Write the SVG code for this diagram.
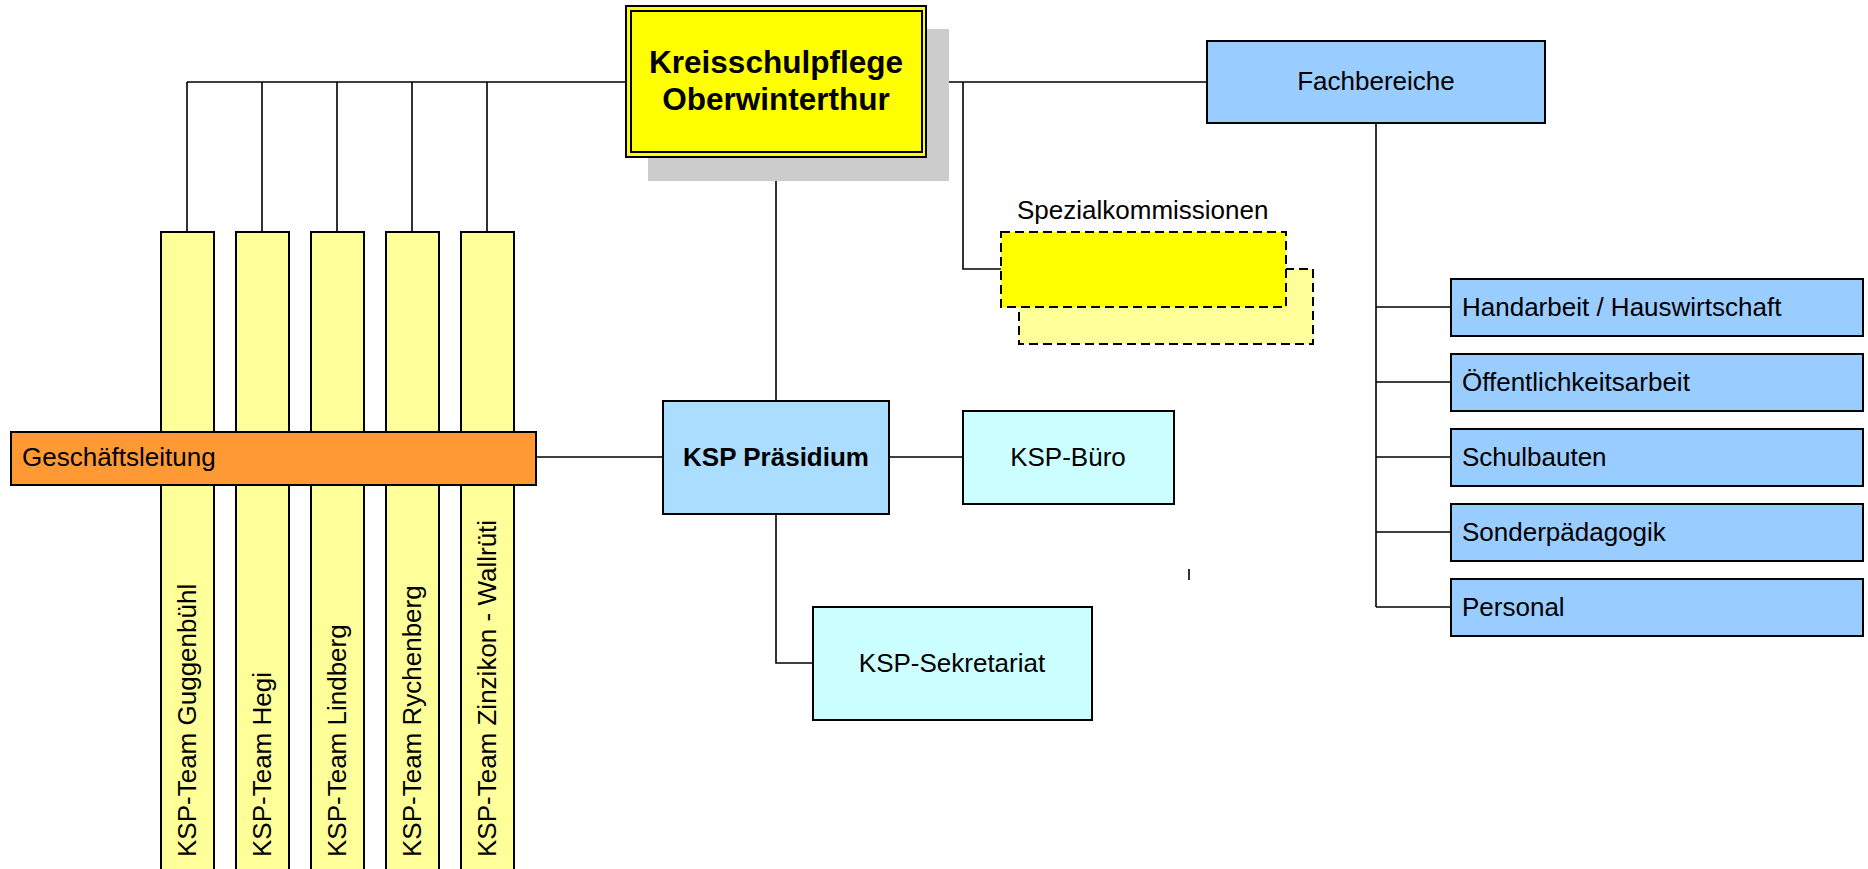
<svg xmlns="http://www.w3.org/2000/svg" width="1868" height="869" viewBox="0 0 1868 869">
<style>
text{font-family:"Liberation Sans",Arial,sans-serif;font-size:26px;fill:#000}
.b{font-weight:bold}
.box{stroke:#000;stroke-width:2}
.ln{stroke:#000;stroke-width:1.6;fill:none}
.dash{stroke:#000;stroke-width:2;stroke-dasharray:9 5}
.team{fill:#FFFF99}
.fb{fill:#99CCFF}
.cy{fill:#CCFFFF}
</style>
<rect width="1868" height="869" fill="#fff"/>
<g id="connectors">
<path class="ln" d="M187,82 H626 M926,82 H1207 M187,82 V232 M262,82 V232 M337,82 V232 M412,82 V232 M487,82 V232"/>
<path class="ln" d="M776,157 V401 M536,457 H663 M889,457 H963 M776,514 V663 H813"/>
<path class="ln" d="M963,82 V269 H1001"/>
<path class="ln" d="M1376,123 V607 M1376,307 H1451 M1376,382 H1451 M1376,457 H1451 M1376,532 H1451 M1376,607 H1451"/>
<path class="ln" d="M1189,569 V580"/>
</g>
<g id="teams">
<g id="team1"><rect class="box team" x="161" y="232" width="53" height="645"/><text transform="rotate(-90 196 857)" x="196" y="857">KSP-Team Guggenbühl</text></g>
<g id="team2"><rect class="box team" x="236" y="232" width="53" height="645"/><text transform="rotate(-90 271 857)" x="271" y="857">KSP-Team Hegi</text></g>
<g id="team3"><rect class="box team" x="311" y="232" width="53" height="645"/><text transform="rotate(-90 346 857)" x="346" y="857">KSP-Team Lindberg</text></g>
<g id="team4"><rect class="box team" x="386" y="232" width="53" height="645"/><text transform="rotate(-90 421 857)" x="421" y="857">KSP-Team Rychenberg</text></g>
<g id="team5"><rect class="box team" x="461" y="232" width="53" height="645"/><text transform="rotate(-90 496 857)" x="496" y="857">KSP-Team Zinzikon - Wallrüti</text></g>
</g>
<g id="kreisschulpflege">
<rect x="648" y="29" width="301" height="152" fill="#CCCCCC"/>
<rect class="box" x="626" y="6" width="300" height="151" fill="#FFFF00"/>
<rect x="631" y="11" width="291" height="141" fill="none" stroke="#000" stroke-width="2"/>
<text class="b" x="776" y="73" text-anchor="middle" style="font-size:31.5px">Kreisschulpflege</text>
<text class="b" x="776" y="110" text-anchor="middle" style="font-size:31.5px">Oberwinterthur</text>
</g>
<g id="fachbereiche"><rect class="box fb" x="1207" y="41" width="338" height="82"/><text x="1376" y="90" text-anchor="middle">Fachbereiche</text></g>
<g id="spezialkommissionen">
<text x="1017" y="219">Spezialkommissionen</text>
<rect class="dash" x="1019" y="269" width="294" height="75" fill="#FFFF99"/>
<rect class="dash" x="1001" y="232" width="285" height="75" fill="#FFFF00"/>
</g>
<g id="geschaeftsleitung"><rect class="box" x="11" y="432" width="525" height="53" fill="#FF9933"/><text x="22" y="466">Geschäftsleitung</text></g>
<g id="praesidium"><rect class="box" x="663" y="401" width="226" height="113" fill="#AADDFF"/><text class="b" x="776" y="466" text-anchor="middle">KSP Präsidium</text></g>
<g id="buero"><rect class="box cy" x="963" y="411" width="211" height="93"/><text x="1068" y="466" text-anchor="middle">KSP-Büro</text></g>
<g id="sekretariat"><rect class="box cy" x="813" y="607" width="279" height="113"/><text x="952" y="672" text-anchor="middle">KSP-Sekretariat</text></g>
<g id="fb1"><rect class="box fb" x="1451" y="279" width="412" height="57"/><text x="1462" y="316">Handarbeit / Hauswirtschaft</text></g>
<g id="fb2"><rect class="box fb" x="1451" y="354" width="412" height="57"/><text x="1462" y="391">Öffentlichkeitsarbeit</text></g>
<g id="fb3"><rect class="box fb" x="1451" y="429" width="412" height="57"/><text x="1462" y="466">Schulbauten</text></g>
<g id="fb4"><rect class="box fb" x="1451" y="504" width="412" height="57"/><text x="1462" y="541">Sonderpädagogik</text></g>
<g id="fb5"><rect class="box fb" x="1451" y="579" width="412" height="57"/><text x="1462" y="616">Personal</text></g>
</svg>
